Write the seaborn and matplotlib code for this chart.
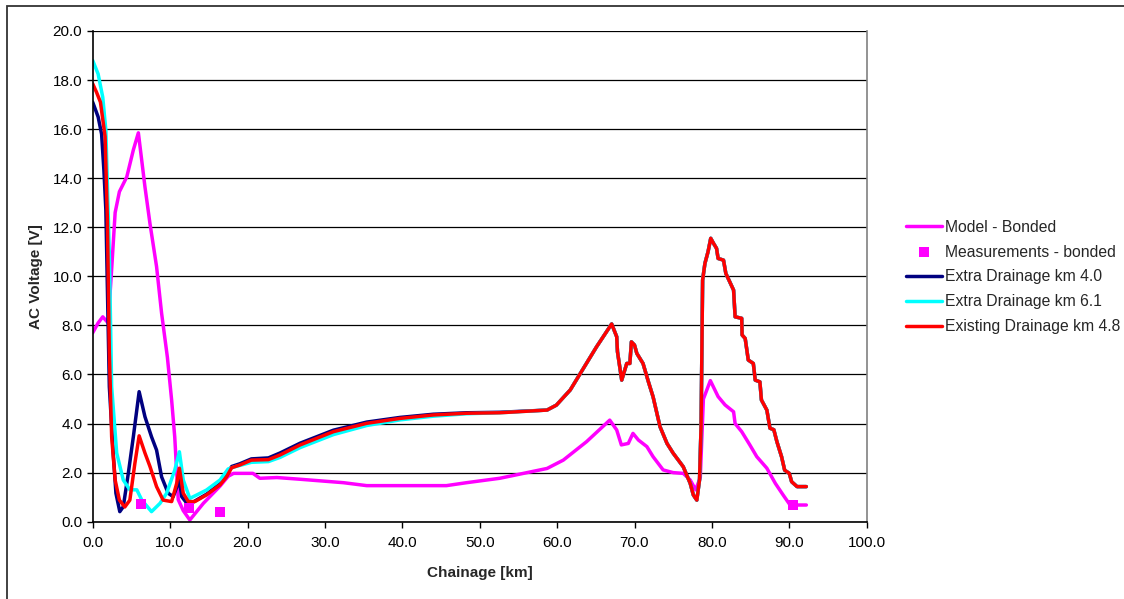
import matplotlib
matplotlib.use("Agg")
import matplotlib.pyplot as plt
import matplotlib.patches as patches
import seaborn as sns

# Model - Bonded
model_x = [0, 0.7, 1.3, 2.0, 2.45, 2.9, 3.45, 4.4, 5.25, 5.9, 6.75, 7.4, 8.25, 8.9, 9.65, 10.2,
           10.6, 11.05, 11.7, 12.55, 14.3, 16.45, 17.5, 18.2, 20.7, 21.6, 23.8, 26.8, 32.4, 35.4,
           45.7, 48.3, 52.6, 58.7, 60.8, 63.8, 66.8, 67.7, 68.3, 69.2, 69.8, 70.5, 71.6, 72.4,
           73.7, 75.0, 76.3, 77.2, 77.9, 78.5, 78.9, 79.8, 80.8, 81.7, 82.8, 83.0, 83.85, 84.9,
           85.8, 87.1, 88.2, 89.2, 90.1, 92.2]
model_v = [7.7, 8.1, 8.35, 8.1, 10.3, 12.6, 13.45, 14.05, 15.15, 15.85, 13.65, 12.15, 10.4, 8.5,
           6.7, 4.95, 3.45, 0.9, 0.45, 0.07, 0.75, 1.45, 1.85, 1.97, 1.97, 1.77, 1.8, 1.73, 1.59,
           1.47, 1.47, 1.59, 1.77, 2.17, 2.51, 3.26, 4.14, 3.74, 3.13, 3.19, 3.6, 3.33, 3.06, 2.65,
           2.11, 2.0, 1.97, 1.7, 1.3, 1.8, 5.0, 5.75, 5.1, 4.76, 4.48, 4.0, 3.67, 3.13, 2.65, 2.18,
           1.56, 1.09, 0.68, 0.68]

# Measurements - bonded
meas_x = [6.2, 12.5, 16.4, 90.5]
meas_v = [0.72, 0.55, 0.41, 0.68]

# first part of the three drainage curves (they split up here)
navy_x = [0, 0.7, 1.15, 1.45, 1.7, 2.15, 2.65, 3.0, 3.5, 3.95, 4.6, 5.25, 6.0, 6.75, 7.6, 8.25,
          8.9, 9.75, 10.4, 11.2, 11.5, 12.35, 13.4, 14.7, 16.45, 17.3, 17.95, 19.0, 20.5, 22.7,
          24.2, 26.8, 31.1, 35.4, 39.7, 44.0, 48.3, 52.6]
navy_v = [17.1, 16.5, 15.8, 14.3, 12.7, 5.5, 2.8, 1.16, 0.41, 0.61, 1.97, 3.46, 5.3, 4.28, 3.46,
          2.92, 1.83, 1.16, 1.02, 1.7, 1.02, 0.68, 0.88, 1.12, 1.55, 1.9, 2.25, 2.36, 2.56, 2.6,
          2.8, 3.2, 3.73, 4.06, 4.25, 4.38, 4.44, 4.46]

cyan_x = [0, 0.7, 1.3, 1.7, 2.15, 2.45, 3.1, 3.95, 4.8, 5.7, 6.35, 7.6, 8.7, 9.55, 10.6, 11.2,
          11.7, 12.55, 13.45, 14.7, 16.45, 17.5, 18.5, 20.5, 22.7, 24.2, 26.8, 31.1, 35.4, 39.7,
          44.0, 48.3, 52.6]
cyan_v = [18.8, 18.25, 17.3, 15.95, 10.9, 5.5, 2.8, 1.7, 1.3, 1.3, 0.88, 0.41, 0.75, 1.16, 2.1,
          2.85, 1.7, 0.95, 1.09, 1.29, 1.7, 2.15, 2.25, 2.42, 2.45, 2.62, 3.02, 3.55, 3.92, 4.15,
          4.3, 4.4, 4.44]

red_x = [0, 0.5, 1.0, 1.6, 1.9, 2.15, 2.45, 2.9, 3.45, 4.15, 4.8, 5.45, 6.0, 6.75, 7.4, 8.25,
         9.1, 10.2, 10.85, 11.2, 11.7, 12.35, 13.2, 14.7, 16.45, 17.3, 17.95, 19.0, 20.5, 22.7,
         24.2, 26.8, 31.1, 35.4, 39.7, 44.0, 48.3, 52.6]
red_v = [17.85, 17.5, 17.1, 15.7, 12.3, 6.9, 3.45, 1.7, 0.88, 0.6, 0.88, 2.38, 3.5, 2.8, 2.25,
         1.43, 0.88, 0.82, 1.56, 2.18, 1.16, 0.82, 0.82, 1.09, 1.5, 1.83, 2.2, 2.31, 2.51, 2.53,
         2.72, 3.13, 3.67, 4.01, 4.21, 4.35, 4.42, 4.44]

# from ~58 km the three drainage curves lie on top of each other
tail_x = [58.7, 59.9, 61.7, 63.4, 65.1, 67.05, 67.7, 67.8, 68.35, 69.0, 69.4, 69.6, 70.0, 70.3,
          71.1, 71.8, 72.4, 73.3, 74.2, 75.0, 76.3, 77.2, 77.6, 78.05, 78.4, 78.6, 78.8, 79.1,
          79.5, 79.85, 80.2, 80.6, 80.8, 81.5, 81.8, 82.3, 82.8, 83.0, 83.85, 83.9, 84.3, 84.7,
          85.35, 85.6, 86.2, 86.4, 87.1, 87.5, 88.0, 88.4, 89.0, 89.4, 90.0, 90.3, 91.0, 92.2]
tail_v = [4.55, 4.75, 5.37, 6.25, 7.13, 8.06, 7.54, 6.93, 5.77, 6.45, 6.45, 7.33, 7.2, 6.86,
          6.45, 5.7, 5.09, 3.87, 3.19, 2.79, 2.24, 1.56, 1.09, 0.88, 1.7, 3.87, 9.85, 10.53,
          11.0, 11.55, 11.35, 11.14, 10.73, 10.66, 10.12, 9.78, 9.44, 8.35, 8.29, 7.61, 7.47,
          6.59, 6.45, 5.77, 5.7, 4.96, 4.55, 3.81, 3.75, 3.26, 2.65, 2.1, 1.97, 1.63, 1.43, 1.43]

sns.set_style("white")
plt.rcParams["font.family"] = ["Liberation Sans", "DejaVu Sans"]

W, H = 1124, 599
fig = plt.figure(figsize=(W / 100, H / 100), dpi=100)
ax = fig.add_axes([92.7 / W, 1 - 521.7 / H, (866.7 - 92.7) / W, (521.7 - 31) / H])

lw = 2.5
sns.lineplot(x=model_x, y=model_v, color="#FF00FF", lw=lw, sort=False, estimator=None,
             ax=ax, label="Model - Bonded")
sns.scatterplot(x=meas_x, y=meas_v, color="#FF00FF", marker="s", s=50, linewidth=0,
                ax=ax, label="Measurements - bonded", zorder=3)
sns.lineplot(x=navy_x + tail_x, y=navy_v + tail_v, color="#000080", lw=lw, sort=False,
             estimator=None, ax=ax, label="Extra Drainage km 4.0")
sns.lineplot(x=cyan_x + tail_x, y=cyan_v + tail_v, color="#00FFFF", lw=lw, sort=False,
             estimator=None, ax=ax, label="Extra Drainage km 6.1")
sns.lineplot(x=red_x + tail_x, y=red_v + tail_v, color="#FF0000", lw=lw, sort=False,
             estimator=None, ax=ax, label="Existing Drainage km 4.8")

ax.set_xlim(0, 100)
ax.set_ylim(0, 20)
ax.set_xticks(range(0, 101, 10))
ax.set_yticks(range(0, 21, 2))
ax.set_xticklabels([f"{v:.1f}" for v in range(0, 101, 10)])
ax.set_yticklabels([f"{v:.1f}" for v in range(0, 21, 2)])
ax.tick_params(axis="both", labelsize=11, colors="black", bottom=True, left=True,
               length=4.5, width=1, direction="out")
ax.tick_params(axis="x", pad=6)
ax.tick_params(axis="y", pad=3)
ax.set_axisbelow(True)
ax.grid(axis="y", color="black", linewidth=0.9)
ax.grid(axis="x", visible=False)

for side in ["left", "bottom"]:
    ax.spines[side].set_color("black")
    ax.spines[side].set_linewidth(1.2)
ax.spines["right"].set_color("#808080")
ax.spines["right"].set_linewidth(1.2)
ax.spines["top"].set_visible(False)

ax.set_xlabel("Chainage [km]", fontsize=11, fontweight="bold", labelpad=11)
ax.set_ylabel("AC Voltage [V]", fontsize=11, fontweight="bold", labelpad=7)

handles, labels = ax.get_legend_handles_labels()
ax.get_legend().remove()
fig.legend(handles, labels, loc="center left", bbox_to_anchor=(906 / W, 1 - 277 / H),
           frameon=False, fontsize=11.3, handlelength=2.3, handletextpad=0.2,
           labelspacing=0.63, borderpad=0, borderaxespad=0)

# chart area border
fig.patches.append(patches.Rectangle((7 / W, -0.02), 2, 1 - 6 / H + 0.02, fill=False,
                                     edgecolor="#333333", lw=1.3, transform=fig.transFigure))

fig.savefig("out.png", dpi=100)
